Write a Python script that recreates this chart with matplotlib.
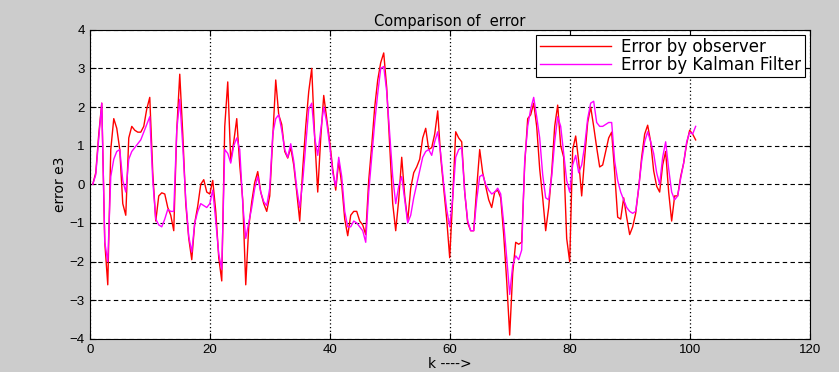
"""
Comparison of error e3: observer vs Kalman filter.
Output: out.png
"""
import numpy as np
import matplotlib.pyplot as plt

plt.rcParams['font.family'] = ['Liberation Sans', 'DejaVu Sans']

# sample index (step 0.5)
k = np.arange(0.5, 101.01, 0.5)

err_observer = [
    # 0.5 .. 17
    0.0, 0.3, 1.3, 2.1, -1.5, -2.6, 0.9, 1.7, 1.45, 0.9,
    -0.5, -0.8, 1.2, 1.5, 1.4, 1.35, 1.35, 1.5, 1.95, 2.25,
    0.3, -0.95, -0.3, -0.22, -0.25, -0.6, -0.8, -1.2, 1.4, 2.85,
    1.3, -0.5, -1.4, -1.95,
    # 17.5 .. 33.5
    -1.0, -0.56, 0.0, 0.12, -0.2, -0.25, 0.1, -0.7, -1.9, -2.5,
    1.5, 2.65, 0.6, 1.1, 1.7, 0.5, -0.4, -2.6, -1.1, -0.45,
    0.05, 0.33, -0.2, -0.5, -0.7, -0.3, 1.2, 2.7, 1.8, 1.55,
    0.85, 0.68, 0.95,
    # 34 .. 50.5
    0.5, -0.2, -0.95, 0.4, 1.5, 2.4, 3.0, 1.2, -0.2, 1.2,
    2.3, 1.7, 1.1, 0.4, -0.15, 0.6, 0.0, -0.9, -1.33, -0.8,
    -0.7, -0.7, -0.95, -1.05, -1.3, 0.1, 1.0, 2.0, 2.7, 3.15,
    3.4, 2.5, 1.0, -0.5,
    # 51 .. 67
    -1.2, -0.4, 0.7, -0.3, -0.95, -0.1, 0.3, 0.45, 0.65, 1.2,
    1.45, 0.9, 0.95, 1.3, 1.9, 0.7, -0.1, -0.9, -1.9, -0.35,
    1.36, 1.2, 1.1, -0.2, -1.0, -1.2, -1.2, -0.1, 0.9, 0.3,
    -0.05, -0.4, -0.6,
    # 67.5 .. 83.5
    -0.2, -0.15, -0.35, -1.3, -2.5, -3.9, -2.3, -1.5, -1.55, -1.5,
    0.5, 1.7, 1.8, 2.1, 1.5, 0.4, -0.35, -1.2, -0.6, 0.3,
    1.5, 2.05, 1.0, 0.7, -1.4, -2.0, 0.9, 1.25, 0.6, -0.3,
    0.7, 1.6, 2.0,
    # 84 .. 101
    1.5, 0.95, 0.45, 0.5, 0.85, 1.2, 1.35, 0.3, -0.85, -0.9,
    -0.35, -0.85, -1.3, -1.1, -0.75, -0.1, 0.7, 1.3, 1.53, 1.1,
    0.35, -0.05, -0.2, 0.5, 0.85, -0.2, -0.95, -0.3, -0.3, 0.2,
    0.55, 1.05, 1.4, 1.3, 1.15,
]

err_kalman = [
    # 0.5 .. 17
    0.0, 0.25, 1.2, 2.1, -1.5, -2.0, 0.2, 0.65, 0.85, 0.9,
    0.1, -0.2, 0.65, 0.85, 0.95, 1.05, 1.15, 1.35, 1.55, 1.75,
    0.1, -0.9, -1.05, -1.1, -0.9, -0.65, -0.7, -0.7, 1.4, 2.2,
    1.0, -0.4, -1.35, -1.75,
    # 17.5 .. 33.5
    -1.0, -0.7, -0.5, -0.55, -0.6, -0.5, -0.15, -0.95, -1.8, -2.2,
    0.9, 0.8, 0.55, 1.0, 1.2, 0.9, -0.5, -1.4, -1.0, -0.6,
    -0.1, 0.2, -0.2, -0.45, -0.55, -0.1, 1.3, 1.7, 1.8, 1.4,
    0.9, 0.7, 1.05,
    # 34 .. 50.5
    0.6, -0.1, -0.6, 0.08, 1.0, 1.95, 2.1, 1.2, 0.75, 1.4,
    2.0, 1.6, 1.0, 0.3, -0.05, 0.7, 0.2, -0.7, -1.1, -1.1,
    -0.95, -1.0, -1.1, -1.2, -1.5, -0.2, 0.7, 1.6, 2.35, 3.0,
    3.05, 2.4, 1.3, 0.2,
    # 51 .. 67
    -0.5, -0.05, 0.2, -0.4, -1.0, -0.8, -0.35, 0.0, 0.35, 0.7,
    0.85, 0.9, 0.75, 1.1, 1.36, 0.8, 0.0, -0.65, -1.1, -0.35,
    0.7, 0.9, 0.95, -0.2, -0.95, -1.2, -1.2, -0.4, 0.2, 0.25,
    0.0, -0.15, -0.25,
    # 67.5 .. 83.5
    -0.2, -0.1, -0.25, -1.0, -1.9, -2.85, -2.1, -1.85, -1.95, -1.7,
    0.6, 1.5, 1.95, 2.25, 1.75, 1.2, 0.25, -0.35, -0.4, 0.2,
    1.1, 1.75, 1.5, 0.8, 0.1, -0.2, 0.5, 0.75, 0.3, 0.5,
    1.0, 1.7, 2.1,
    # 84 .. 101
    2.15, 1.6, 1.5, 1.5, 1.55, 1.6, 1.6, 0.6, 0.1, -0.2,
    -0.4, -0.6, -0.7, -0.75, -0.7, -0.1, 0.6, 1.1, 1.36, 1.1,
    0.8, 0.3, 0.0, 0.7, 1.1, 0.4, -0.2, -0.4, -0.3, 0.15,
    0.55, 1.1, 1.35, 1.3, 1.5,
]

xticks = [0, 20, 40, 60, 80, 100, 120]
yticks = [-4, -3, -2, -1, 0, 1, 2, 3, 4]

fig = plt.figure(figsize=(8.39, 3.72), dpi=100, facecolor="#cccccc")
ax = fig.add_axes([0.107, 0.089, 0.858, 0.831])
ax.set_facecolor("white")

ax.plot(k, err_observer, color="#ff0000", lw=1.0, label="Error by observer")
ax.plot(k, err_kalman, color="#ff00ff", lw=1.0, label="Error by Kalman Filter")

ax.set_xlim(0, 120)
ax.set_ylim(-4, 4)
ax.set_xticks(xticks)
ax.set_yticks(yticks)

# MATLAB-like grid: dotted verticals, dashed horizontals
ax.xaxis.grid(True, color="black", ls=(0, (1, 2)), lw=0.9)
ax.yaxis.grid(True, color="black", ls=(0, (4, 3)), lw=0.8)
ax.set_axisbelow(True)
ax.tick_params(direction="in", top=True, right=True, labelsize=9.5,
               length=4, width=0.8)
for s in ax.spines.values():
    s.set_linewidth(0.8)

wide = ['DejaVu Sans']
ax.set_title("Comparison of  error", fontsize=10.5, pad=3, family=wide)
ax.set_xlabel("k ---->", fontsize=10, labelpad=1, family=wide)
ax.set_ylabel("error e3", fontsize=10, labelpad=2, family=wide)

leg = ax.legend(loc="upper right", prop={'family': 'DejaVu Sans', 'size': 12},
                frameon=True, fancybox=False, framealpha=1, edgecolor="black",
                borderaxespad=0.3, handlelength=4.3, handletextpad=0.6,
                borderpad=0.2, labelspacing=0.0)
leg.get_frame().set_linewidth(0.8)

fig.savefig("out.png", dpi=100, facecolor=fig.get_facecolor())
